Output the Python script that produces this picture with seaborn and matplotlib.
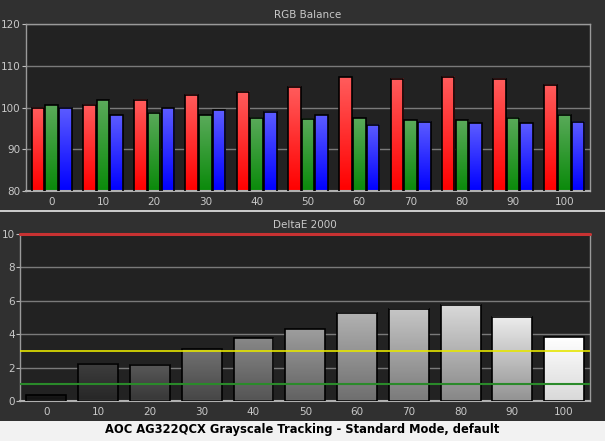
import numpy as np
import pandas as pd
import seaborn as sns
import matplotlib
matplotlib.use('Agg')
import matplotlib.pyplot as plt
from matplotlib.colors import to_rgb
from matplotlib.lines import Line2D
from matplotlib.patches import Rectangle

levels = [0, 10, 20, 30, 40, 50, 60, 70, 80, 90, 100]
red = [100.0, 100.7, 101.9, 103.1, 103.8, 105.0, 107.2, 106.9, 107.4, 106.9, 105.5]
green = [100.5, 101.7, 98.8, 98.1, 97.6, 97.3, 97.4, 96.9, 96.9, 97.6, 98.3]
blue = [100.0, 98.1, 99.8, 99.3, 99.0, 98.1, 95.9, 96.6, 96.2, 96.2, 96.6]
delta_e = [0.36, 2.22, 2.16, 3.11, 3.77, 4.31, 5.27, 5.51, 5.75, 5.03, 3.83]

BG = '#303030'
FACE = '#222222'
TXT = '#c8c8c8'
GRID = '#7a7a7a'

sns.set_style('dark')
plt.rcParams['font.family'] = ['DejaVu Sans']

fig = plt.figure(figsize=(6.05, 4.41), dpi=100)
fig.patch.set_facecolor(BG)

W, H = 605, 441
def px_axes(left, top, right, bottom):
    return fig.add_axes([left / W, 1 - bottom / H, (right - left) / W, (bottom - top) / H])

ax1 = px_axes(26, 24, 590, 191)
ax2 = px_axes(20.5, 234, 590, 401)


def gradient_fill(ax, patch, top, bottom, ymin):
    # vertical gradient over the visible part of the bar, outline drawn on top
    x0, y0 = patch.get_x(), max(patch.get_y(), ymin)
    w, y1 = patch.get_width(), patch.get_y() + patch.get_height()
    t = np.linspace(0, 1, 64)[:, None]
    img = (1 - t) * np.array(top)[None, :] + t * np.array(bottom)[None, :]
    ax.imshow(img[:, None, :], extent=[x0, x0 + w, y0, y1], aspect='auto',
              origin='upper', zorder=2.5, interpolation='bilinear')
    mid = tuple((np.array(top) + np.array(bottom)) / 2)
    patch.set_facecolor(mid)
    patch.set_edgecolor('none')
    patch.set_zorder(2)
    ax.add_patch(Rectangle((patch.get_x(), patch.get_y()), w, patch.get_height(),
                           facecolor='none', edgecolor='black', linewidth=1.2, zorder=3))


def style_axes(ax, title):
    ax.set_facecolor(FACE)
    ax.set_title(title, color=TXT, fontsize=7.5, pad=4)
    ax.set_xlabel('')
    ax.set_ylabel('')
    ax.grid(False)
    ax.yaxis.grid(True, color=GRID, linewidth=1)
    ax.set_axisbelow(True)
    for s in ['left', 'right', 'top']:
        ax.spines[s].set_color('#9a9a9a')
        ax.spines[s].set_linewidth(1)
    ax.spines['bottom'].set_color('#b0b0b0')
    ax.spines['bottom'].set_linewidth(1.5)
    ax.set_xlim(-0.5, 10.5)
    ax.set_xticks(range(len(levels)))
    ax.set_xticklabels([str(v) for v in levels])
    ax.set_xticks(np.arange(-0.5, 11, 1), minor=True)
    ax.tick_params(axis='x', which='major', length=0, colors=TXT, labelsize=7.5, pad=4)
    ax.tick_params(axis='x', which='minor', length=3, direction='out', color='#c0c0c0', width=1)
    ax.tick_params(axis='y', which='major', length=3, direction='out', color='#c0c0c0',
                   labelcolor=TXT, labelsize=7.5, pad=1, left=True)


# RGB balance
rgb = pd.DataFrame({
    'level': np.tile(levels, 3),
    'value': red + green + blue,
    'channel': ['R'] * 11 + ['G'] * 11 + ['B'] * 11,
})
sns.barplot(data=rgb, x='level', y='value', hue='channel', hue_order=['R', 'G', 'B'],
            palette=['#ff0000', '#008000', '#0000ff'], width=0.8, gap=0.08,
            edgecolor='black', linewidth=1, legend=False, ax=ax1)
grads = {'R': ('#ff5c5c', '#ff0000'), 'G': ('#5aaa5a', '#0a8a0a'), 'B': ('#5c5cff', '#0000ff')}
for i, patch in enumerate(list(ax1.patches)):
    ch = ['R', 'G', 'B'][i // 11]
    gradient_fill(ax1, patch, to_rgb(grads[ch][0]), to_rgb(grads[ch][1]), 80)
ax1.set_ylim(80, 120)
ax1.set_yticks([80, 90, 100, 110, 120])
style_axes(ax1, 'RGB Balance')

# DeltaE 2000
de = pd.DataFrame({'level': levels, 'de': delta_e})
sns.barplot(data=de, x='level', y='de', color='#888888', width=0.77,
            edgecolor='black', linewidth=1, ax=ax2)
for lv, patch in zip(levels, list(ax2.patches)):
    top = min(1.0, 0.1 + 0.9 * (lv / 100) ** 0.8)
    bot = 0.85 if lv == 100 else top * 0.62
    gradient_fill(ax2, patch, (top,) * 3, (bot,) * 3, 0)
ax2.axhline(3, color='#e6e600', linewidth=1.2, zorder=4)
ax2.axhline(1, color='#2a8a2a', linewidth=1.5, zorder=4)
ax2.axhline(10, color='#c83232', linewidth=2.2, zorder=5, clip_on=False)
ax2.set_ylim(0, 10)
ax2.set_yticks([0, 2, 4, 6, 8, 10])
style_axes(ax2, 'DeltaE 2000')

# separator and caption strip
fig.add_artist(Line2D([0, 1], [1 - 211 / H, 1 - 211 / H], color='#e8e8e8', linewidth=1.2,
                      transform=fig.transFigure))
fig.add_artist(Rectangle((0, 0), 1, 20 / H, transform=fig.transFigure,
                         facecolor='#f2f2f2', edgecolor='none'))
fig.text(302 / W, 1 - 430 / H, 'AOC AG322QCX Grayscale Tracking - Standard Mode, default',
         ha='center', va='center', fontsize=8.3, fontweight='bold', color='black')

fig.savefig('out.png', dpi=100, facecolor=fig.get_facecolor())
